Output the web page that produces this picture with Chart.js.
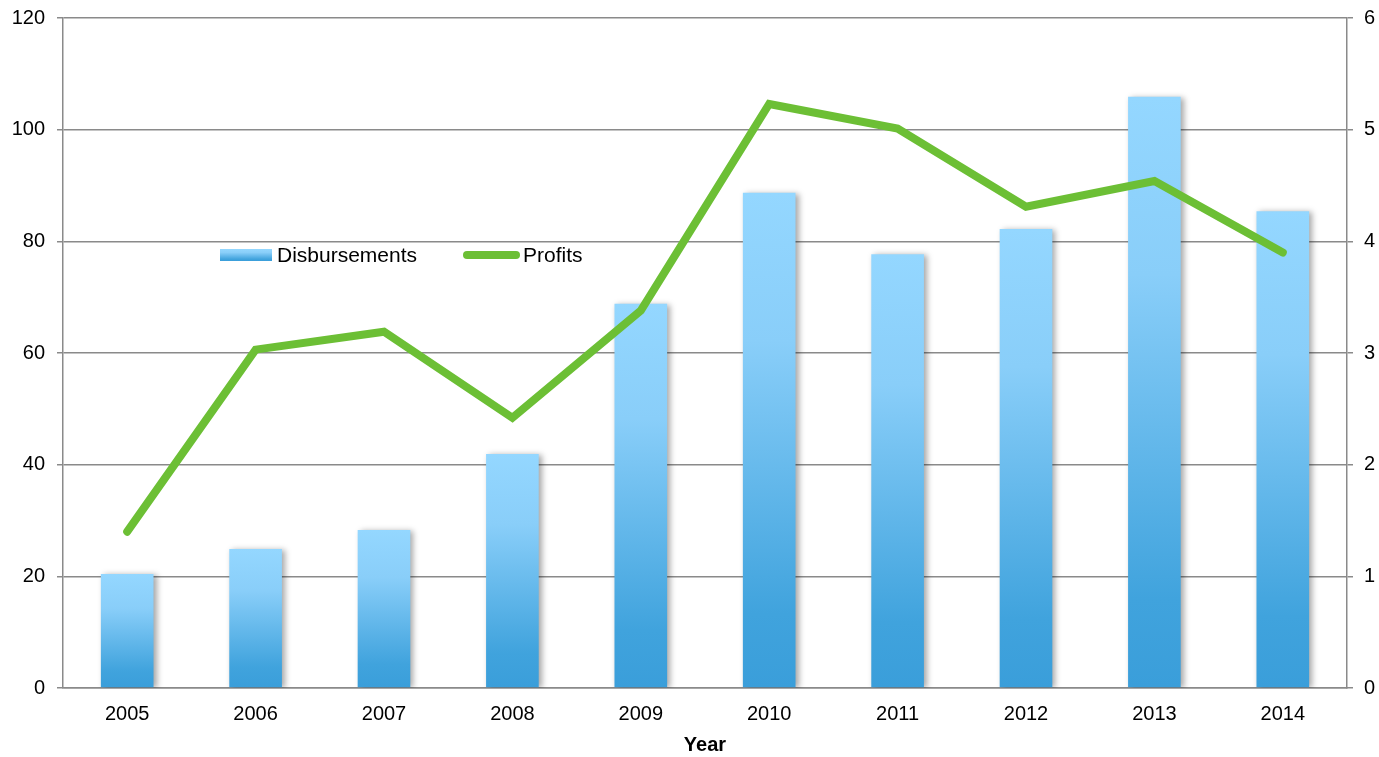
<!DOCTYPE html>
<html>
<head>
<meta charset="utf-8">
<script src="https://cdn.jsdelivr.net/npm/chart.js@4"></script>
<style>
    html, body { margin: 0; padding: 0; background: #fff; }
    #wrap { width: 1379px; height: 757px; position: relative; }
</style>
</head>
<body>
<div id="wrap"><canvas id="mainChart"></canvas></div>
<script>
// Dữ liệu biểu đồ
const years = ['2005', '2006', '2007', '2008', '2009', '2010', '2011', '2012', '2013', '2014'];
const disbursements = [20.4, 24.9, 28.3, 41.9, 68.8, 88.7, 77.7, 82.2, 105.9, 85.4];
const profits = [1.40, 3.03, 3.19, 2.42, 3.38, 5.23, 5.01, 4.31, 4.54, 3.90];
const leftTicks = [0, 20, 40, 60, 80, 100, 120];
const rightTicks = [0, 1, 2, 3, 4, 5, 6];

const gridColor = '#8a8a8a';
const greenLine = '#6cbf35';
const fontFamily = 'Arial, "Liberation Sans", sans-serif';

// Gradient cho từng cột (sáng ở trên, đậm ở dưới)
function barGradient(ctx, top, bottom) {
    const g = ctx.createLinearGradient(0, top, 0, bottom);
    g.addColorStop(0, '#94d7ff');
    g.addColorStop(0.3, '#89cef9');
    g.addColorStop(0.85, '#40a3dd');
    g.addColorStop(1, '#3a9eda');
    return g;
}

function barColor(context) {
    const chart = context.chart;
    if (!chart.chartArea || context.raw === undefined) return '#7cc4f2';
    const top = chart.scales.y.getPixelForValue(context.raw);
    return barGradient(chart.ctx, top, chart.chartArea.bottom);
}

// Bóng đổ cho các cột
const barShadow = {
    id: 'barShadow',
    beforeDatasetDraw(chart, args) {
        if (args.index !== 1) return;
        const ctx = chart.ctx;
        ctx.save();
        ctx.shadowColor = 'rgba(0, 0, 0, 0.35)';
        ctx.shadowBlur = 6;
        ctx.shadowOffsetX = 3;
        ctx.shadowOffsetY = 1;
    },
    afterDatasetDraw(chart, args) {
        if (args.index !== 1) return;
        chart.ctx.restore();
    }
};

// Chú thích vẽ bên trong vùng biểu đồ
const innerLegend = {
    id: 'innerLegend',
    afterDraw(chart) {
        const ctx = chart.ctx;
        const bar = chart.data.datasets[1];
        const line = chart.data.datasets[0];
        ctx.save();
        ctx.font = '21px ' + fontFamily;
        ctx.textBaseline = 'alphabetic';

        ctx.fillStyle = barGradient(ctx, 249, 261);
        ctx.fillRect(220, 249, 52, 12);
        ctx.fillStyle = '#000';
        ctx.fillText(bar.label, 277, 262);

        ctx.strokeStyle = greenLine;
        ctx.lineWidth = 8;
        ctx.lineCap = 'round';
        ctx.beginPath();
        ctx.moveTo(467, 255);
        ctx.lineTo(516, 255);
        ctx.stroke();
        ctx.fillText(line.label, 523, 262);
        ctx.restore();
    }
};

// Cố định kích thước trục dọc, bỏ phần đệm nhãn
function fixVertical(width) {
    return function (scale) {
        scale.width = width;
        scale.paddingTop = 0;
        scale.paddingBottom = 0;
    };
}

new Chart(document.getElementById('mainChart'), {
    data: {
        labels: years,
        datasets: [
            {
                type: 'line',
                label: 'Profits',
                data: profits,
                yAxisID: 'y1',
                borderColor: greenLine,
                borderWidth: 8,
                borderCapStyle: 'round',
                borderJoinStyle: 'miter',
                tension: 0,
                pointRadius: 0,
                order: 0
            },
            {
                type: 'bar',
                label: 'Disbursements',
                data: disbursements,
                yAxisID: 'y',
                backgroundColor: barColor,
                borderWidth: 0,
                barPercentage: 0.41,
                categoryPercentage: 1,
                order: 1
            }
        ]
    },
    options: {
        responsive: true,
        maintainAspectRatio: false,
        animation: false,
        layout: { padding: { top: 18, left: 0, right: 0, bottom: 0 } },
        plugins: {
            legend: { display: false },
            tooltip: { enabled: false }
        },
        scales: {
            x: {
                grid: { display: false, drawTicks: false },
                border: { display: true, color: gridColor, width: 1.5 },
                ticks: { color: '#000', font: { family: fontFamily, size: 20 }, padding: 14 },
                title: {
                    display: true,
                    text: 'Year',
                    color: '#000',
                    font: { family: fontFamily, size: 20, weight: 'bold' },
                    padding: 0
                },
                afterFit(scale) {
                    scale.height = 69;
                    scale.paddingLeft = 0;
                    scale.paddingRight = 0;
                }
            },
            y: {
                position: 'left',
                min: 0,
                max: 120,
                afterBuildTicks(scale) { scale.ticks = leftTicks.map(v => ({ value: v })); },
                grid: { color: gridColor, lineWidth: 1.5, tickLength: 6, tickColor: gridColor },
                border: { display: true, color: gridColor, width: 1.5 },
                ticks: { color: '#000', font: { family: fontFamily, size: 20 }, padding: 12 },
                afterFit: fixVertical(63)
            },
            y1: {
                position: 'right',
                min: 0,
                max: 6,
                afterBuildTicks(scale) { scale.ticks = rightTicks.map(v => ({ value: v })); },
                grid: { drawOnChartArea: false, tickLength: 6, tickColor: gridColor, lineWidth: 1.5 },
                border: { display: true, color: gridColor, width: 1.5 },
                ticks: { color: '#000', font: { family: fontFamily, size: 20 }, padding: 11 },
                afterFit: fixVertical(32)
            }
        }
    },
    plugins: [barShadow, innerLegend]
});
</script>
</body>
</html>
